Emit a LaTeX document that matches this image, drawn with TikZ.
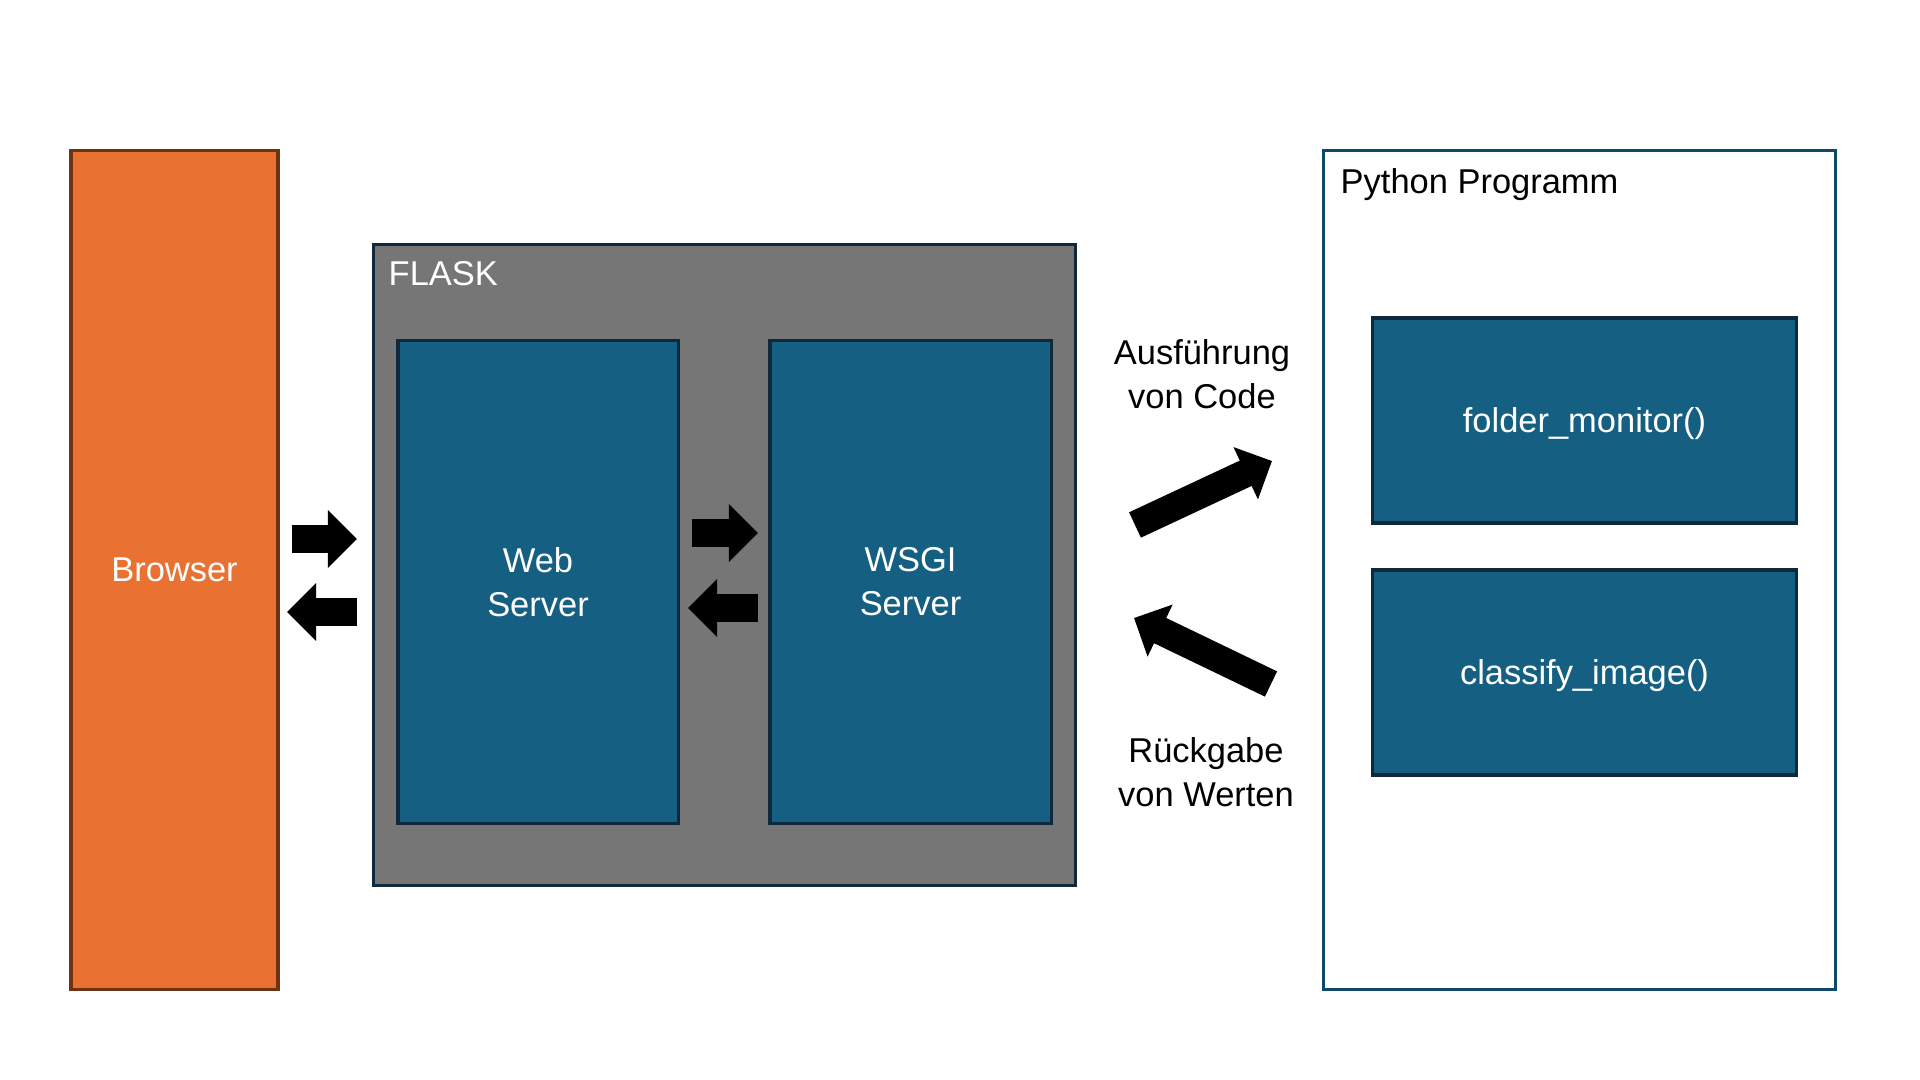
\documentclass[tikz,border=0pt]{standalone}
\usepackage{fontspec}
\setmainfont{Liberation Sans}
\usetikzlibrary{arrows.meta}
\definecolor{browserfill}{HTML}{E97132}
\definecolor{browserline}{HTML}{6E3412}
\definecolor{flaskfill}{HTML}{767676}
\definecolor{darknavy}{HTML}{10283C}
\definecolor{serverfill}{HTML}{156082}
\definecolor{pythonline}{HTML}{0E4A66}
\begin{document}
\begin{tikzpicture}[x=0.01cm,y=-0.01cm]
\tikzset{Box/.style = {draw, line width=0.9pt, inner sep=0pt, align=center, font=\fontsize{9.8}{12.5}\selectfont},
  ServerBox/.style = {Box, fill=serverfill, draw=darknavy, text=white},
  FuncBox/.style = {ServerBox, minimum width=4.23cm, minimum height=2.05cm, text height=7pt, text depth=0pt},
  Label/.style = {inner sep=0pt, align=center, font=\fontsize{9.8}{12.5}\selectfont},
  BlockArrow/.style = {line width=0.28cm, -{Triangle[length=0.29cm,width=0.56cm]}}}
\useasboundingbox (0,0) rectangle (1920,1080);
\node[Box, fill=browserfill, draw=browserline, text=white, minimum width=2.07cm, minimum height=8.38cm] (browser) at (174.5,570) {Browser};
\node[Box, fill=flaskfill, draw=darknavy, minimum width=7.01cm, minimum height=6.40cm] (flask) at (724.5,565) {};
\node[Label, text=white, anchor=base west] (flasklabel) at (388,286) {FLASK};
\node[ServerBox, minimum width=2.80cm, minimum height=4.82cm] (web) at (538,582) {Web\\Server};
\node[ServerBox, minimum width=2.81cm, minimum height=4.82cm] (wsgi) at (910.5,582) {WSGI\\Server};
\node[Box, fill=white, draw=pythonline, minimum width=5.11cm, minimum height=8.38cm] (python) at (1579.5,570) {};
\node[Label, anchor=base west] (pythonlabel) at (1340,194) {Python Programm};
\node[FuncBox] (folder) at (1584.5,420.5) {folder\_monitor()};
\node[FuncBox] (classify) at (1584.5,672.5) {classify\_image()};
\node[Label] (ausf) at (1202,374) {Ausführung\\von Code};
\node[Label] (rueck) at (1206,772) {Rückgabe\\von Werten};
\coordinate (bwA) at (292,539); \coordinate (bwB) at (357,539); \coordinate (wbA) at (357,612); \coordinate (wbB) at (287,612);
\coordinate (wsA) at (692,533); \coordinate (wsB) at (758,533); \coordinate (swA) at (758,608); \coordinate (swB) at (688,608);
\coordinate (callA) at (1135,525); \coordinate (callB) at (1272,461); \coordinate (retA) at (1271,684); \coordinate (retB) at (1134,618);
\draw[BlockArrow] (bwA) -- (bwB); \draw[BlockArrow] (wbA) -- (wbB);
\draw[BlockArrow] (wsA) -- (wsB); \draw[BlockArrow] (swA) -- (swB);
\draw[BlockArrow] (callA) -- (callB); \draw[BlockArrow] (retA) -- (retB);
\end{tikzpicture}
\end{document}
